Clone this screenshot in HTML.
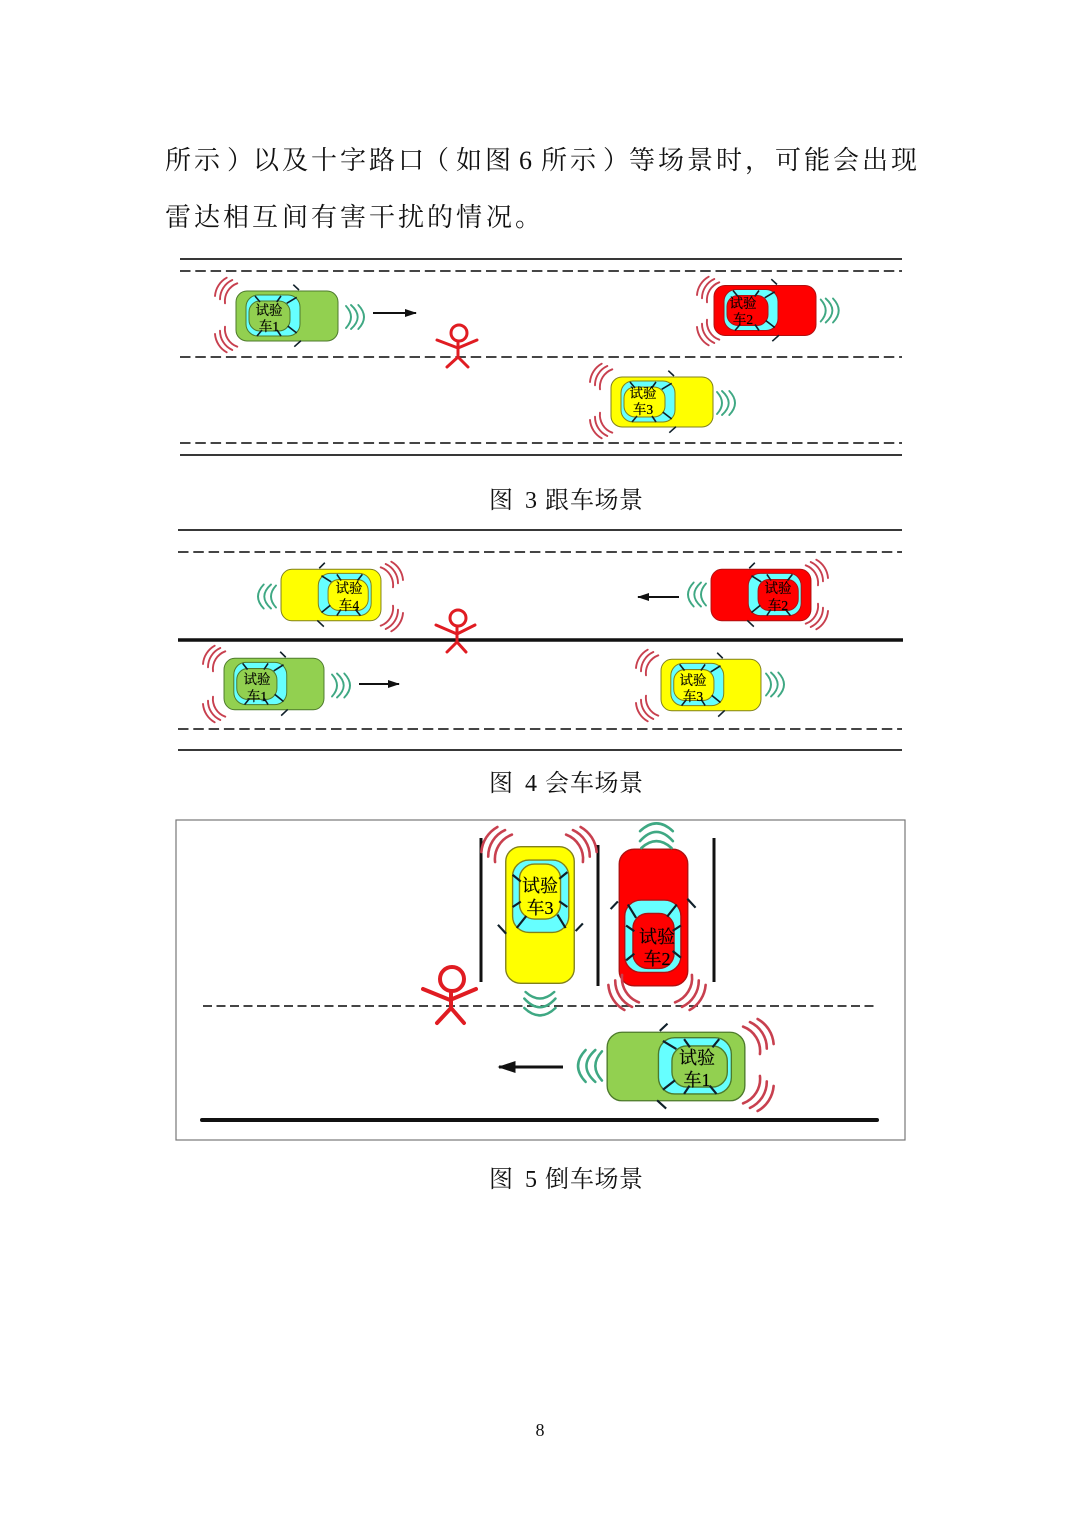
<!DOCTYPE html>
<html lang="zh">
<head>
<meta charset="utf-8">
<style>
html,body{margin:0;padding:0;background:#fff}
svg{display:block}
text{font-family:"Liberation Serif","Noto Serif CJK SC",serif;fill:#111}
.p{font-size:26px}
.c{font-size:24px}
.t{font-size:13.5px;text-anchor:middle;fill:#000;stroke:#000;stroke-width:.2}
.T{font-size:18px;text-anchor:middle;fill:#000;stroke:#000;stroke-width:.2}
.s{stroke:#1c1c1c;stroke-width:1.7;fill:none}
.d{stroke:#2b2b2b;stroke-width:1.7;fill:none;stroke-dasharray:10.5 4.8}
.b{stroke:#111;stroke-width:3.5;fill:none}
.m{stroke:#e01c22;stroke-width:3;fill:none;stroke-linecap:round;stroke-linejoin:round}
</style>
</head>
<body>
<svg width="1080" height="1527" viewBox="0 0 1080 1527" xmlns="http://www.w3.org/2000/svg">
<defs>
<g id="car">
  <rect x="-51" y="-25" width="102" height="50" rx="11" stroke-width="1"/>
  <rect x="-41" y="-21" width="54" height="41" rx="12" fill="#66ffff" stroke-width="1"/>
  <rect x="-38" y="-15" width="41" height="30" rx="11" stroke-width="1"/>
  <g stroke="#10202a" stroke-width="1.6" fill="none">
    <path d="M-32,-20 L-27,-14M-6,-20 L-10.3,-14M9.7,-18.7 L-.3,-12.7M-30,20 L-25,14M-6,20 L-10,14M9.7,17 L.7,10"/>
    <path d="M6.3,-31.3 L12,-26M7.3,30.7 L14,24.7"/>
  </g>
</g>
<g id="ar" fill="none" stroke="#c8404f" stroke-width="1.9" stroke-linecap="round">
  <path d="M1,19 A23,23 0 0 1 12.7,.7M6,22.3 A21,21 0 0 1 18.3,3M11,26.3 A19,19 0 0 1 23.3,6.3"/>
</g>
<g id="fr" fill="none" stroke="#3fa883" stroke-width="1.9" stroke-linecap="round">
  <path d="M0,1 Q10,12 0,23M5,0 Q18.4,12 5,24M12.3,0 Q23.7,12 12.3,24"/>
</g>
<marker id="ah" markerWidth="6" markerHeight="4" refX="5.5" refY="2" orient="auto" markerUnits="strokeWidth">
  <path d="M0,0 L6,2 L0,4 Z" fill="#111"/>
</marker>
</defs>

<rect width="1080" height="1527" fill="#fff"/>

<text class="p" y="169" x="165 194 227 253 282 311 340 369 398 423 456 485 512 519 532 541 570 603 629 658 687 716 745 775 804 833 862 891">所示）以及十字路口（如图 6 所示）等场景时，可能会出现</text>
<text class="p" y="226" x="165 194 223 252 282 311 340 369 398 427 456 486 515">雷达相互间有害干扰的情况。</text>

<!-- Figure 3 -->
<path class="s" d="M180,259 H902M180,455 H902"/>
<path class="d" d="M180,271 H902M180,357 H902M180,443 H902"/>
<use href="#car" transform="translate(287,316)" fill="#92d050" stroke="#4d7a2c"/>
<use href="#car" transform="translate(765,310.5)" fill="#ff0000" stroke="#b01010"/>
<use href="#car" transform="translate(662,402)" fill="#ffff00" stroke="#80801c"/>
<use href="#ar" transform="translate(214,277)"/><use href="#ar" transform="translate(214,353) scale(1,-1)"/><use href="#fr" transform="translate(346,305)"/>
<use href="#ar" transform="translate(696,276)"/><use href="#ar" transform="translate(696,346) scale(1,-1)"/><use href="#fr" transform="translate(820.7,298.5)"/>
<use href="#ar" transform="translate(589,363)"/><use href="#ar" transform="translate(589,439) scale(1,-1)"/><use href="#fr" transform="translate(717,391)"/>
<text class="t" x="269" y="315">试验</text><text class="t" x="269" y="331">车1</text>
<text class="t" x="743" y="308">试验</text><text class="t" x="743" y="324">车2</text>
<text class="t" x="643" y="398">试验</text><text class="t" x="643" y="414">车3</text>
<path d="M373,313 H416" stroke="#111" stroke-width="2" marker-end="url(#ah)"/>
<g class="m"><circle cx="459" cy="333" r="8"/><path d="M437,340 L458,348 L477,340M458,341 V357M447,367 L458,357 L468,367"/></g>
<text class="c" y="508" x="489 515 525 538 545 570 594.5 619">图 3 跟车场景</text>

<!-- Figure 4 -->
<path class="s" d="M178,530 H902M178,750 H902"/>
<path class="d" d="M178,552 H902M178,729 H902"/>
<path class="b" d="M178,640 H903"/>
<use href="#car" transform="translate(331,595) scale(-.98,1.03)" fill="#ffff00" stroke="#80801c"/>
<use href="#car" transform="translate(761,595) scale(-.98,1.03)" fill="#ff0000" stroke="#b01010"/>
<use href="#car" transform="translate(274,684) scale(.98,1.03)" fill="#92d050" stroke="#4d7a2c"/>
<use href="#car" transform="translate(711,685) scale(.98,1.03)" fill="#ffff00" stroke="#80801c"/>
<use href="#ar" transform="translate(404,561) scale(-1,1)"/><use href="#ar" transform="translate(404,632) scale(-1,-1)"/><use href="#fr" transform="translate(276,584.5) scale(-1,1)"/>
<use href="#ar" transform="translate(829,559) scale(-1,1)"/><use href="#ar" transform="translate(829,630) scale(-1,-1)"/><use href="#fr" transform="translate(706,582.5) scale(-1,1)"/>
<use href="#ar" transform="translate(202,645)"/><use href="#ar" transform="translate(202,723) scale(1,-1)"/><use href="#fr" transform="translate(332,673.5)"/>
<use href="#ar" transform="translate(635,649)"/><use href="#ar" transform="translate(635,722) scale(1,-1)"/><use href="#fr" transform="translate(766,672.5)"/>
<text class="t" x="349" y="593">试验</text><text class="t" x="349" y="610">车4</text>
<text class="t" x="778" y="593">试验</text><text class="t" x="778" y="610">车2</text>
<text class="t" x="257" y="684">试验</text><text class="t" x="257" y="701">车1</text>
<text class="t" x="693" y="685">试验</text><text class="t" x="693" y="701">车3</text>
<path d="M679,597 H638" stroke="#111" stroke-width="2" marker-end="url(#ah)"/>
<path d="M359,684 H399" stroke="#111" stroke-width="2" marker-end="url(#ah)"/>
<g class="m"><circle cx="458" cy="618" r="8"/><path d="M436,625 L457,634 L475,625M457,626 V642M447,652 L457,642 L466,652"/></g>
<text class="c" y="791" x="489 515 525 538 545 570 594.5 619">图 4 会车场景</text>

<!-- Figure 5 -->
<rect x="176" y="820" width="729" height="320" fill="none" stroke="#777" stroke-width="1.2"/>
<path d="M203,1006 H876" stroke="#2b2b2b" stroke-width="1.8" stroke-dasharray="9 4.5" fill="none"/>
<path d="M202,1120 H877" stroke="#111" stroke-width="4" fill="none" stroke-linecap="round"/>
<path d="M481,838 V982M598,845 V986M714,838 V982" stroke="#111" stroke-width="3" fill="none"/>
<use href="#car" transform="translate(540,915) rotate(90) scale(1.34,1.37)" fill="#ffff00" stroke="#80801c"/>
<use href="#car" transform="translate(653.5,917.5) rotate(-90) scale(1.34,1.37)" fill="#ff0000" stroke="#b01010"/>
<use href="#car" transform="translate(676,1066.5) scale(-1.35,1.37)" fill="#92d050" stroke="#4d7a2c"/>
<use href="#ar" transform="translate(480,826) scale(1.37)"/><use href="#ar" transform="translate(598,826) scale(-1.37,1.37)"/><use href="#fr" transform="translate(555.5,992) rotate(90) scale(1.3)"/>
<use href="#ar" transform="translate(607,1011) scale(1.37,-1.37)"/><use href="#ar" transform="translate(707,1011) scale(-1.37,-1.37)"/><use href="#fr" transform="translate(640,848) rotate(-90) scale(1.37)"/>
<use href="#ar" transform="translate(775,1018) scale(-1.37,1.37)"/><use href="#ar" transform="translate(775,1112) scale(-1.37,-1.37)"/><use href="#fr" transform="translate(602,1050) scale(-1.33,1.33)"/>
<text class="T" x="540" y="892">试验</text><text class="T" x="540" y="914">车3</text>
<text class="T" x="657" y="943">试验</text><text class="T" x="657" y="965">车2</text>
<text class="T" x="697" y="1064">试验</text><text class="T" x="697" y="1086">车1</text>
<path d="M563,1067 H499" stroke="#111" stroke-width="3" marker-end="url(#ah)"/>
<g class="m" style="stroke-width:4"><circle cx="452" cy="979" r="12"/><path d="M423,989 L450,1000 L476,989M451,991 V1008M437,1023 L451,1008 L464,1023"/></g>
<text class="c" y="1187" x="489 515 525 538 545 570 594.5 619">图 5 倒车场景</text>

<text x="540" y="1436" text-anchor="middle" style="font-size:18px">8</text>
</svg>
</body>
</html>
